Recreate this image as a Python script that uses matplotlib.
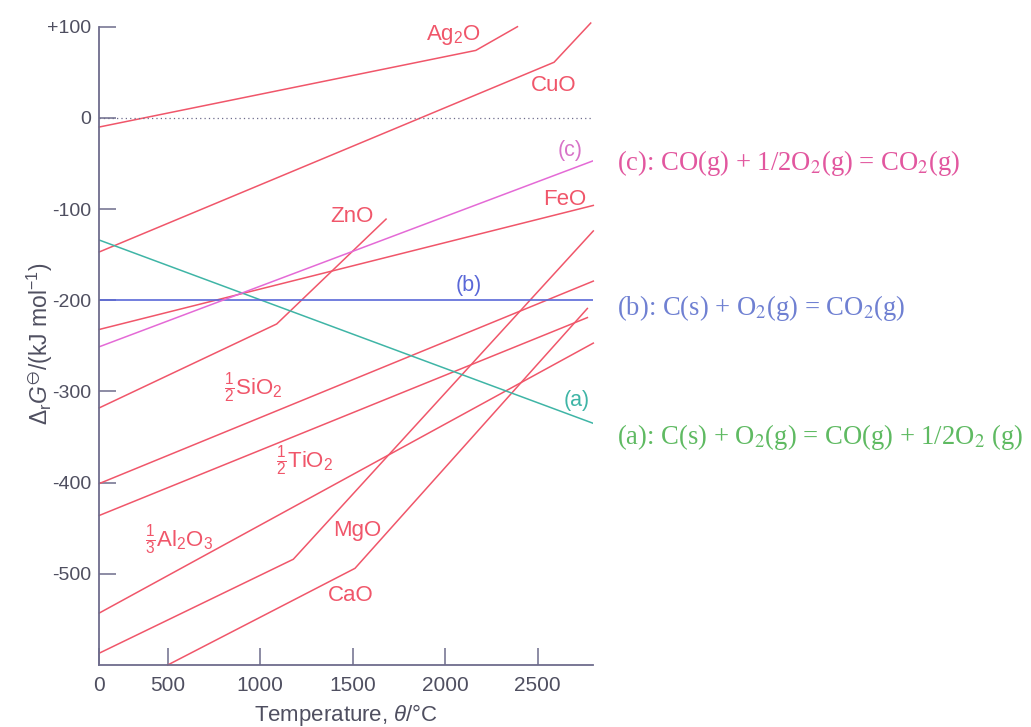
import numpy as np
import matplotlib
matplotlib.use("Agg")
import matplotlib.pyplot as plt

# Ellingham diagram: standard Gibbs energy of formation of oxides (per mol O2)
temp_ag2o = [0, 2165, 2390]
dg_ag2o = [-10, 74, 100]
temp_cuo = [0, 2588, 2786]
dg_cuo = [-147, 61, 104]
temp_feo = [0, 2800]
dg_feo = [-232, -96]
temp_zno = [0, 1089, 1680]
dg_zno = [-318, -226, -111]
temp_sio2 = [0, 2800]
dg_sio2 = [-401, -179]
temp_tio2 = [0, 2768]
dg_tio2 = [-436, -219]
temp_al2o3 = [0, 2800]
dg_al2o3 = [-543, -247]
temp_mgo = [0, 1179, 2800]
dg_mgo = [-587, -484, -124]
temp_cao = [500, 1512, 2768]
dg_cao = [-600, -494, -209]

# carbon reactions
temp_a = [0, 2800]
dg_a = [-134, -335]
temp_b = [0, 2800]
dg_b = [-200, -200]
temp_c = [0, 2800]
dg_c = [-251, -47]

x_ticks = [0, 500, 1000, 1500, 2000, 2500]
y_ticks = [100, 0, -100, -200, -300, -400, -500]
y_ticklabels = ["+100", "0", "-100", "-200", "-300", "-400", "-500"]

RED = "#f0566a"
AXIS = "#6e6c8c"
TXT = "#4f4f60"

plt.rcParams["font.family"] = ["Liberation Sans", "DejaVu Sans"]
plt.rcParams["mathtext.fontset"] = "custom"
plt.rcParams["mathtext.rm"] = "Liberation Sans"
plt.rcParams["mathtext.it"] = "Liberation Sans:italic"
plt.rcParams["mathtext.bf"] = "Liberation Sans:bold"
plt.rcParams["mathtext.fallback"] = "stixsans"


# the printed temperature axis squeezes the 0-500 interval
def fwd(x):
    x = np.asarray(x, dtype=float)
    return np.where(x < 500, x * 0.1368, 68.4 + (x - 500) * 0.185)


def inv(p):
    p = np.asarray(p, dtype=float)
    return np.where(p < 68.4, p / 0.1368, 500 + (p - 68.4) / 0.185)


fig = plt.figure(figsize=(10.31, 7.27), dpi=100)
ax = fig.add_axes([99.3 / 1031, 1 - 665 / 727, (593.3 - 99.3) / 1031, (665 - 26.7) / 727])
ax.set_xscale("function", functions=(fwd, inv))
ax.set_xlim(0, 2800)
ax.set_ylim(-600, 100)

oxides = [
    (temp_ag2o, dg_ag2o), (temp_cuo, dg_cuo), (temp_feo, dg_feo),
    (temp_zno, dg_zno), (temp_sio2, dg_sio2), (temp_tio2, dg_tio2),
    (temp_al2o3, dg_al2o3), (temp_mgo, dg_mgo), (temp_cao, dg_cao),
]
for t, g in oxides:
    ax.plot(t, g, color=RED, lw=1.1, clip_on=False)

ax.plot(temp_a, dg_a, color="#3fb5a6", lw=1.1)
ax.plot(temp_b, dg_b, color="#5a68d8", lw=1.2)
ax.plot(temp_c, dg_c, color="#e46ad6", lw=1.1)

ax.axhline(0, color=AXIS, lw=0.9, ls=(0, (1, 2.5)))

# curve labels
lab = dict(color=RED, fontsize=16, ha="center", va="center")
ax.text(2044, 91, "Ag$_2$O", **lab)
ax.text(2588, 36, "CuO", **lab)
ax.text(2648, -89, "FeO", **lab)
ax.text(1494, -108, "ZnO", **lab)
ax.text(961, -296, r"$\frac{1}{2}$SiO$_2$", **lab)
ax.text(1242, -376, r"$\frac{1}{2}$TiO$_2$", **lab)
ax.text(560, -462, r"$\frac{1}{3}$Al$_2$O$_3$", **lab)
ax.text(1522, -453, "MgO", **lab)
ax.text(1490, -524, "CaO", **lab)
ax.text(2675, -36, "(c)", color="#d873c8", fontsize=15.5, ha="center", va="center")
ax.text(2125, -184, "(b)", color="#5a68d8", fontsize=15.5, ha="center", va="center")
ax.text(2711, -310, "(a)", color="#3fb5a6", fontsize=15.5, ha="center", va="center")

# axes styling
for s in ["top", "right"]:
    ax.spines[s].set_visible(False)
for s in ["left", "bottom"]:
    ax.spines[s].set_color(AXIS)
    ax.spines[s].set_linewidth(1.3)
ax.set_xticks(x_ticks)
ax.set_xticklabels([str(v) for v in x_ticks])
ax.set_yticks(y_ticks)
ax.set_yticklabels(y_ticklabels)
ax.tick_params(axis="both", direction="in", length=12, width=1.1, color=AXIS,
               labelcolor=TXT)
ax.tick_params(axis="y", pad=6, labelsize=14)
ax.tick_params(axis="x", pad=8, labelsize=15)

ax.set_xlabel(r"Temperature, $\theta$/°C", fontsize=16, color=TXT)
ax.xaxis.label.set_va("center")
ax.xaxis.set_label_coords(0.5, -0.078)
ax.set_ylabel(r"$\Delta_{\rm r}G^{\ominus}$/(kJ mol$^{-1}$)", fontsize=16.5, color=TXT)
ax.yaxis.label.set_va("center")
ax.yaxis.set_label_coords(-0.121, 0.503)

# reaction equations on the right
eq = dict(fontsize=19.2, family="Liberation Serif", math_fontfamily="stix", va="center", ha="left")
fig.text(0.598, 1 - 163 / 727, "(c): CO(g) + 1/2O$_2$(g) = CO$_2$(g)", color="#e2579f", **eq)
fig.text(0.598, 1 - 308 / 727, "(b): C(s) + O$_2$(g) = CO$_2$(g)", color="#6f80d2", **eq)
fig.text(0.598, 1 - 437 / 727, "(a): C(s) + O$_2$(g) = CO(g) + 1/2O$_2$ (g)", color="#5fba62", **eq)

fig.savefig("out.png", dpi=100)
